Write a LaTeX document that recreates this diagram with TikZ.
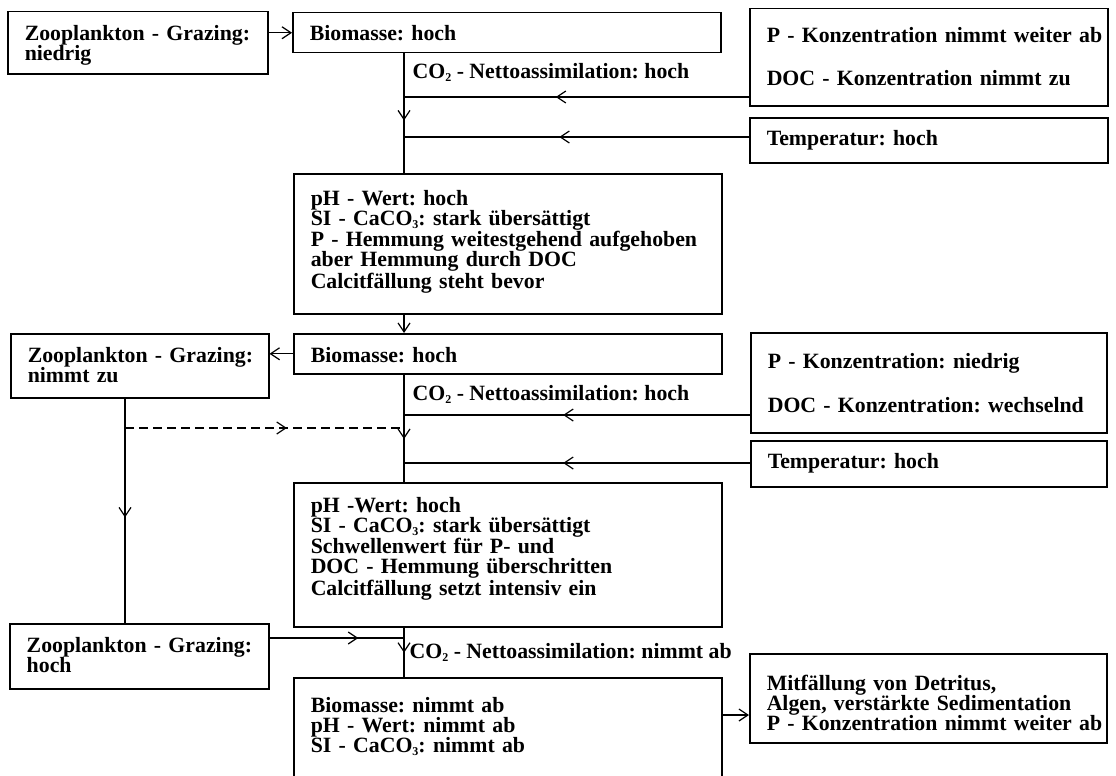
\documentclass[tikz,border=0pt]{standalone}
\usepackage{fontspec}
\setmainfont{Liberation Serif}
\usetikzlibrary{arrows.meta, decorations.markings}
\frenchspacing
\newcommand\chemsub[1]{\raisebox{-3pt}{\fontsize{12}{12}\selectfont #1}}

\begin{document}
\begin{tikzpicture}[x=1pt, y=-1pt, line width=1.2pt, >={Straight Barb[length=9pt,width=12pt]},
  box/.style={draw, line width=1.5pt, anchor=north west, align=left, inner xsep=17pt, inner ysep=0pt, font=\bfseries\fontsize{21.8}{20}\selectfont,
    execute at begin node={\hyphenpenalty=10000 \rightskip=0pt plus 1fil minus 80pt}},
  lab/.style={anchor=base west, inner sep=0pt, font=\bfseries\fontsize{21.8}{20}\selectfont},
  midarrow/.style={postaction={decorate}, decoration={markings, mark=at position #1 with {\arrow{>}}}}]
\useasboundingbox (0,0) rectangle (1116,776);

\node[box, text width=226pt, text height=29pt, text depth=33pt] (zoo1) at (7,11) {Zooplankton - Grazing:\\niedrig};
\node[box, text width=394pt, text height=28pt, text depth=12pt] (bio1) at (292,12) {Biomasse: hoch};
\node[box, text width=324pt, text height=34pt, text depth=63pt] (kon1) at (749,8) {P - Konzentration nimmt weiter ab\\[23pt]DOC - Konzentration nimmt zu};
\node[box, text width=324pt, text height=28pt, text depth=17pt] (temp1) at (749,117) {Temperatur: hoch};
\node[box, text width=394pt, text height=32pt, text depth=108pt] (ph1) at (293,173) {pH - Wert: hoch\\SI - CaCO\chemsub{3}: stark übersättigt\\P - Hemmung weitestgehend aufgehoben\\aber Hemmung durch DOC\\Calcitfällung steht bevor};

\node[box, text width=224pt, text height=29pt, text depth=35pt] (zoo2) at (10,333) {Zooplankton - Grazing:\\nimmt zu};
\node[box, text width=394pt, text height=29pt, text depth=11pt] (bio2) at (293,333) {Biomasse: hoch};
\node[box, text width=322pt, text height=36pt, text depth=64pt] (kon2) at (750,332) {P - Konzentration: niedrig\\[24pt]DOC - Konzentration: wechselnd};
\node[box, text width=322pt, text height=28pt, text depth=18pt] (temp2) at (750,440) {Temperatur: hoch};
\node[box, text width=394pt, text height=30pt, text depth=114pt] (ph2) at (293,482) {pH -Wert: hoch\\SI - CaCO\chemsub{3}: stark übersättigt\\Schwellenwert für P- und\\DOC - Hemmung überschritten\\Calcitfällung setzt intensiv ein};

\node[box, text width=225pt, text height=29pt, text depth=36pt] (zoo3) at (9,623) {Zooplankton - Grazing:\\hoch};
\node[box, text width=394pt, text height=35pt, text depth=68pt] (bio3) at (293,677) {Biomasse: nimmt ab\\pH - Wert: nimmt ab\\SI - CaCO\chemsub{3}: nimmt ab};
\node[box, text width=323pt, text height=37pt, text depth=52pt] (mitf) at (749,653) {Mitfällung von Detritus,\\Algen, verstärkte Sedimentation\\P - Konzentration nimmt weiter ab};

\node[lab] (co1) at (412,78) {CO\chemsub{2} - Nettoassimilation: hoch};
\node[lab] (co2) at (412,400) {CO\chemsub{2} - Nettoassimilation: hoch};
\node[lab] (co3) at (409,658) {CO\chemsub{2} - Nettoassimilation: nimmt ab};

\coordinate (a1) at (404,97);
\coordinate (a2) at (404,137);
\coordinate (b1) at (404,415);
\coordinate (b2) at (404,463);
\coordinate (d1) at (125,428);
\coordinate (c1) at (404,638);
\coordinate (c2) at (735,715);

\draw[->] (zoo1.east |- bio1.west) -- (bio1.west);
\draw[midarrow=0.56] (bio1.south -| a1) -- (ph1.north -| a1);
\draw[midarrow=0.56] (kon1.west |- a1) -- (a1);
\draw[midarrow=0.55] (temp1.west |- a2) -- (a2);
\draw[->] (ph1.south -| a1) -- (bio2.north -| a1);

\draw[->] (bio2.west) -- (bio2.west -| zoo2.east);
\draw[midarrow=0.6] (bio2.south -| b1) -- (ph2.north -| b1);
\draw[midarrow=0.54] (kon2.west |- b1) -- (b1);
\draw[midarrow=0.54] (temp2.west |- b2) -- (b2);
\draw[midarrow=0.53] (zoo2.south -| d1) -- (zoo3.north -| d1);
\draw[dash pattern=on 9pt off 5pt, midarrow=0.58] (d1) -- (d1 -| b1);

\draw[midarrow=0.51] (ph2.south -| c1) -- (bio3.north -| c1);
\draw[midarrow=0.66] (zoo3.east |- c1) -- (c1);
\draw[->] (c2 -| bio3.east) -- (c2 -| mitf.west);
\end{tikzpicture}
\end{document}
